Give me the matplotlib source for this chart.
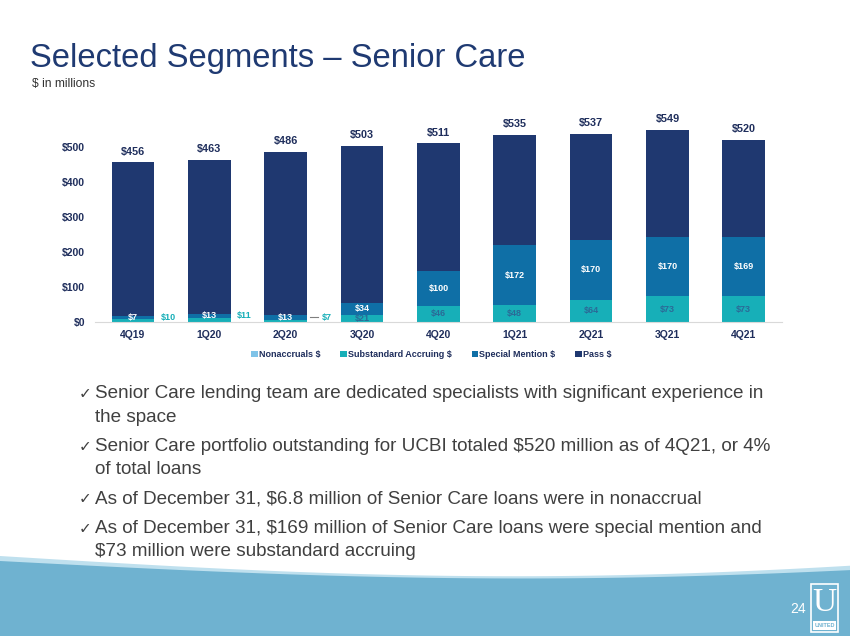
import numpy as np
import matplotlib
matplotlib.use("Agg")
import matplotlib.pyplot as plt
from matplotlib.patches import Rectangle, Polygon

plt.rcParams['font.family'] = ['Liberation Sans', 'DejaVu Sans']

quarters = ['4Q19', '1Q20', '2Q20', '3Q20', '4Q20', '1Q21', '2Q21', '3Q21', '4Q21']
totals = [456, 463, 486, 503, 511, 535, 537, 549, 520]
nonaccruals = [0, 0, 0, 0, 0, 0, 0, 0, 0]
substandard = [10, 11, 7, 21, 46, 48, 64, 73, 73]
special_mention = [7, 13, 13, 34, 100, 172, 170, 170, 169]
pass_vals = [t - n - s - m for t, n, s, m in zip(totals, nonaccruals, substandard, special_mention)]
y_ticks = [0, 100, 200, 300, 400, 500]

bullets = [
    "Senior Care lending team are dedicated specialists with significant experience in\nthe space",
    "Senior Care portfolio outstanding for UCBI totaled $520 million as of 4Q21, or 4%\nof total loans",
    "As of December 31, $6.8 million of Senior Care loans were in nonaccrual",
    "As of December 31, $169 million of Senior Care loans were special mention and\n$73 million were substandard accruing",
]

c_non = '#7FC3E8'
c_sub = '#17AFB8'
c_sm = '#0F6FA6'
c_pass = '#1F3870'
txt_navy = '#1F2E5C'

W, H = 850, 636
fig = plt.figure(figsize=(8.5, 6.36), dpi=100)

# footer wave and logo, in pixel coordinates
bg = fig.add_axes([0, 0, 1, 1], zorder=-1)
bg.set_xlim(0, W)
bg.set_ylim(H, 0)
bg.axis('off')
xs = np.linspace(0, W, 60)
top_light = 556 + 24 * np.sin(np.pi * xs / 1100) - 6 * xs / W
top_main = 561 + 20 * np.sin(np.pi * xs / 1100) - 4 * xs / W
bg.add_patch(Polygon(np.column_stack([np.r_[xs, W, 0], np.r_[top_light, H, H]]),
                     closed=True, color='#BFE0EE', lw=0))
bg.add_patch(Polygon(np.column_stack([np.r_[xs, W, 0], np.r_[top_main, H, H]]),
                     closed=True, color='#6FB2D0', lw=0))
bg.text(806, 609, '24', color='white', fontsize=10, ha='right', va='center')
bg.add_patch(Rectangle((811, 584), 27, 48, fill=False, ec='white', lw=1.2))
bg.text(824.5, 603, 'U', color='white', fontsize=24, ha='center', va='center',
        family='Liberation Serif')
bg.add_patch(Rectangle((813, 621), 23, 9, fill=True, fc='white', lw=0))
bg.text(824.5, 625.5, 'UNITED', color='#6FB2D0', fontsize=4, ha='center', va='center',
        fontweight='bold')

fig.text(30 / W, 1 - 58 / H, 'Selected Segments \u2013 Senior Care', fontsize=23.6,
         color='#1F3A72', ha='left', va='center')
fig.text(32 / W, 1 - 84 / H, '$ in millions', fontsize=8.7, color='#333333',
         ha='left', va='center')

# chart
ax = fig.add_axes([94.8 / W, 1 - 322 / H, (782 - 94.8) / W, 210 / H])
x = np.arange(len(quarters))
bw = 0.56
b0 = np.zeros(len(x))
ax.bar(x, nonaccruals, bw, bottom=b0, color=c_non, label='Nonaccruals $')
b1 = b0 + np.array(nonaccruals)
ax.bar(x, substandard, bw, bottom=b1, color=c_sub, label='Substandard Accruing $')
b2 = b1 + np.array(substandard)
ax.bar(x, special_mention, bw, bottom=b2, color=c_sm, label='Special Mention $')
b3 = b2 + np.array(special_mention)
ax.bar(x, pass_vals, bw, bottom=b3, color=c_pass, label='Pass $')

ax.set_xlim(-0.5, len(x) - 0.5)
ax.set_ylim(0, 600)
ax.set_yticks(y_ticks)
ax.set_yticklabels(['$%d' % v for v in y_ticks])
ax.set_xticks(x)
ax.set_xticklabels(quarters)
for s in ['top', 'right', 'left']:
    ax.spines[s].set_visible(False)
ax.spines['bottom'].set_color('#D9D9D9')
ax.tick_params(length=0, labelsize=7.5, labelcolor=txt_navy, pad=6)
for lab in ax.get_xticklabels() + ax.get_yticklabels():
    lab.set_fontweight('bold')
ax.tick_params(axis='y', pad=7)

for i in x:
    ax.annotate('$%d' % totals[i], (i, totals[i]), xytext=(0, 4), textcoords='offset points',
                ha='center', va='bottom', fontsize=7.8, fontweight='bold', color=txt_navy)
    ax.text(i, b2[i] + special_mention[i] / 2, '$%d' % special_mention[i], ha='center',
            va='center', fontsize=6.5, fontweight='bold', color='white')
    if substandard[i] >= 20:
        ax.text(i, b1[i] + substandard[i] / 2, '$%d' % substandard[i], ha='center',
                va='center', fontsize=6.5, fontweight='bold', color='#2B6A97')
    else:
        ly = b2[i] + special_mention[i] / 2
        if i == 2:
            ax.plot([i + 0.32, i + 0.42], [ly, ly], color='#7F7F7F', lw=0.8)
            ax.text(i + 0.47, ly, '$%d' % substandard[i], ha='left', va='center',
                    fontsize=6.5, fontweight='bold', color=c_sub)
        else:
            ax.text(i + 0.46, ly, '$%d' % substandard[i], ha='center', va='center',
                    fontsize=6.5, fontweight='bold', color=c_sub)

leg = ax.legend(loc='upper center', bbox_to_anchor=(0.49, -0.095), ncol=4, frameon=False,
                fontsize=6.5, handlelength=0.7, handleheight=0.7, handletextpad=0.15,
                columnspacing=2.2)
for t in leg.get_texts():
    t.set_fontweight('bold')
    t.set_color(txt_navy)

# bullets (baseline positions)
line_h = 23
y = 398.5
for b in bullets:
    lines = b.split('\n')
    fig.text(79 / W, 1 - y / H, '\u2713', fontsize=11, color='#404040', ha='left',
             va='baseline', family='DejaVu Sans')
    for k, ln in enumerate(lines):
        fig.text(95 / W, 1 - (y + k * line_h) / H, ln, fontsize=13.6, color='#404040',
                 ha='left', va='baseline')
    y += len(lines) * line_h + 6.5

fig.savefig('out.png', dpi=100)
